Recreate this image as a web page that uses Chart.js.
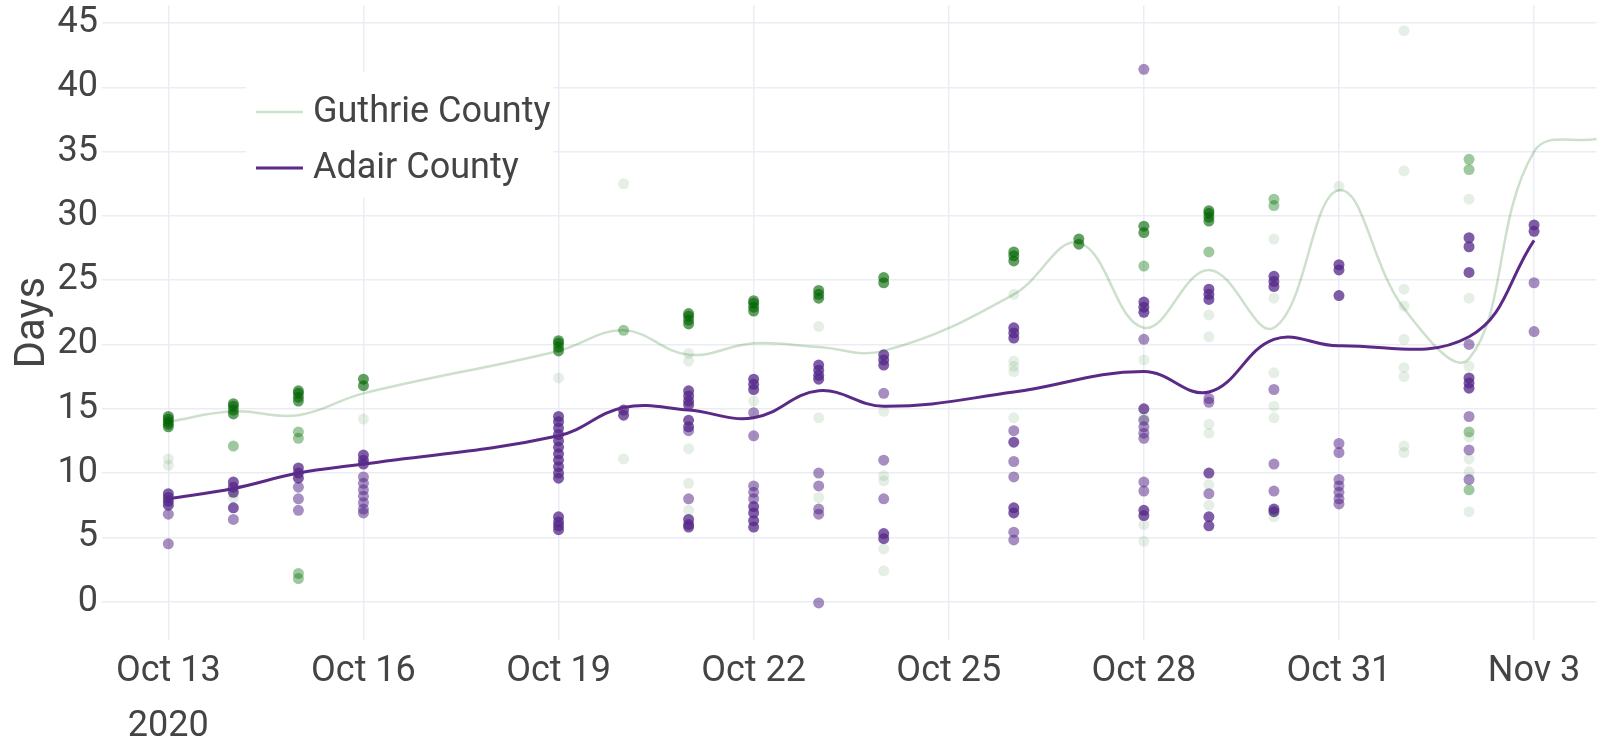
<!DOCTYPE html>
<html>
<head>
<meta charset="utf-8">
<script src="https://cdn.jsdelivr.net/npm/chart.js@4.4.1/dist/chart.umd.min.js"></script>
<style>
  html, body { margin: 0; padding: 0; background: #fff; overflow: hidden; }
</style>
</head>
<body>
<canvas id="chart" width="1602" height="740"></canvas>
<script>
// smoothed trend lines, one value per day
const trendDates = ['10-13','10-14','10-15','10-16','10-19','10-20','10-21','10-22','10-23','10-24','10-26','10-27','10-28','10-29','10-30','10-31','11-01','11-02','11-03','11-04'];
const guthrieTrend = [14.0,14.8,14.5,16.2,19.5,21.1,19.2,20.1,19.8,19.5,23.9,27.9,21.3,25.8,21.3,32.0,22.8,18.9,35.0,36.0];
const adairTrend   = [8.0,8.8,10.0,10.7,12.9,15.1,14.9,14.3,16.4,15.2,16.3,null,17.9,16.3,20.4,19.9,null,20.6,28.1,null];

// individual records [date, days], grouped by how strongly they show
const guthrieStrong = [
  ['10-13',13.6],['10-13',13.8],['10-13',14.0],['10-13',14.2],['10-13',14.4],
  ['10-14',14.6],['10-14',14.9],['10-14',15.2],['10-14',15.4],
  ['10-15',15.6],['10-15',15.9],['10-15',16.2],['10-15',16.4],
  ['10-16',16.8],['10-16',17.3],
  ['10-19',19.5],['10-19',19.8],['10-19',20.1],['10-19',20.3],
  ['10-21',21.6],['10-21',21.9],['10-21',22.2],['10-21',22.4],
  ['10-22',22.6],['10-22',22.9],['10-22',23.2],['10-22',23.4],
  ['10-23',23.6],['10-23',23.9],['10-23',24.2],
  ['10-24',24.8],['10-24',25.2],
  ['10-26',26.5],['10-26',26.9],['10-26',27.2],
  ['10-27',27.8],['10-27',28.2],
  ['10-28',28.7],['10-28',29.2],
  ['10-29',29.6],['10-29',29.9],['10-29',30.2],['10-29',30.4]
];
const guthrieMedium = [
  ['10-14',12.1],['10-15',13.2],['10-15',12.7],['10-15',2.2],['10-15',1.8],
  ['10-20',21.1],['10-28',26.1],['10-29',27.2],['10-30',31.3],['10-30',30.8],
  ['11-02',34.4],['11-02',33.6],['11-02',13.2],['11-02',8.7]
];
const guthrieFaint = [
  ['10-13',11.1],['10-13',10.6],['10-14',8.1],['10-16',14.2],['10-19',17.4],
  ['10-20',32.5],['10-20',11.1],
  ['10-21',19.3],['10-21',18.7],['10-21',11.9],['10-21',9.2],['10-21',7.1],
  ['10-22',15.6],['10-23',21.4],['10-23',14.3],['10-23',8.1],
  ['10-24',14.8],['10-24',9.8],['10-24',9.4],['10-24',4.1],['10-24',2.4],
  ['10-26',23.9],['10-26',18.7],['10-26',18.3],['10-26',17.9],['10-26',14.3],
  ['10-28',18.8],['10-28',14.3],['10-28',6.0],['10-28',4.7],
  ['10-29',22.3],['10-29',20.6],['10-29',13.8],['10-29',13.1],['10-29',9.1],['10-29',7.5],
  ['10-30',28.2],['10-30',23.6],['10-30',17.8],['10-30',15.2],['10-30',14.3],['10-30',6.6],
  ['10-31',32.3],
  ['11-01',44.4],['11-01',33.5],['11-01',24.3],['11-01',23.0],['11-01',20.4],['11-01',18.2],['11-01',17.5],['11-01',12.1],['11-01',11.6],
  ['11-02',31.3],['11-02',23.6],['11-02',18.3],['11-02',12.8],['11-02',11.1],['11-02',10.1],['11-02',7.0]
];
const adairStrong = [
  ['10-13',7.5],['10-13',7.8],['10-13',8.1],['10-13',8.4],
  ['10-14',8.5],['10-14',8.9],['10-14',9.3],['10-14',7.3],
  ['10-15',9.6],['10-15',10.0],['10-15',10.4],
  ['10-16',10.7],['10-16',11.0],['10-16',11.4],
  ['10-19',14.4],['10-19',14.0],['10-19',13.5],['10-19',13.0],['10-19',12.5],['10-19',12.0],['10-19',11.5],['10-19',11.0],['10-19',10.5],['10-19',10.0],['10-19',9.6],
  ['10-19',6.6],['10-19',6.2],['10-19',5.9],['10-19',5.6],
  ['10-20',14.9],['10-20',14.5],
  ['10-21',16.4],['10-21',16.0],['10-21',15.6],['10-21',15.3],['10-21',14.1],['10-21',13.6],['10-21',6.4],['10-21',6.0],['10-21',5.8],
  ['10-22',17.3],['10-22',16.9],['10-22',16.5],['10-22',7.4],['10-22',6.9],['10-22',6.3],['10-22',5.8],
  ['10-23',18.4],['10-23',18.0],['10-23',17.6],['10-23',17.3],
  ['10-24',19.2],['10-24',18.8],['10-24',18.4],['10-24',5.3],['10-24',4.9],
  ['10-26',21.3],['10-26',20.9],['10-26',20.5],['10-26',12.4],['10-26',7.3],['10-26',6.9],
  ['10-28',23.3],['10-28',22.9],['10-28',22.5],['10-28',15.0],['10-28',7.1],['10-28',6.7],
  ['10-29',24.3],['10-29',23.9],['10-29',23.5],['10-29',10.0],['10-29',6.6],['10-29',5.9],
  ['10-30',25.3],['10-30',24.9],['10-30',24.5],['10-30',7.2],['10-30',7.0],
  ['10-31',26.2],['10-31',25.8],['10-31',23.8],
  ['11-02',28.3],['11-02',27.6],['11-02',25.6],['11-02',17.4],['11-02',17.0],['11-02',16.6],
  ['11-03',29.3],['11-03',28.8]
];
const adairMedium = [
  ['10-13',6.8],['10-13',4.5],['10-14',6.4],
  ['10-15',8.9],['10-15',8.0],['10-15',7.1],
  ['10-16',9.7],['10-16',9.2],['10-16',8.7],['10-16',8.2],['10-16',7.7],['10-16',7.2],['10-16',6.9],
  ['10-21',13.3],['10-21',8.0],
  ['10-22',14.7],['10-22',12.9],['10-22',9.0],['10-22',8.5],['10-22',8.0],
  ['10-23',10.0],['10-23',9.0],['10-23',7.2],['10-23',6.8],['10-23',-0.1],
  ['10-24',16.2],['10-24',11.0],['10-24',8.0],
  ['10-26',13.3],['10-26',10.9],['10-26',9.7],['10-26',5.4],['10-26',4.8],
  ['10-28',41.4],['10-28',20.4],['10-28',14.1],['10-28',13.6],['10-28',13.1],['10-28',12.7],['10-28',9.3],['10-28',8.6],
  ['10-29',15.8],['10-29',15.5],['10-29',8.4],
  ['10-30',16.5],['10-30',10.7],['10-30',8.6],
  ['10-31',12.3],['10-31',11.6],['10-31',9.5],['10-31',9.0],['10-31',8.5],['10-31',8.0],['10-31',7.6],
  ['11-02',20.0],['11-02',14.4],['11-02',11.8],['11-02',9.5],
  ['11-03',24.8],['11-03',21.0]
];

const xTickDates = ['10-13','10-16','10-19','10-22','10-25','10-28','10-31','11-03'];
const xTickLabels = [['Oct 13','2020'],'Oct 16','Oct 19','Oct 22','Oct 25','Oct 28','Oct 31','Nov 3'];
const yTicks = [0,5,10,15,20,25,30,35,40,45];

const baseDay = Date.UTC(2020, 9, 13);
function dayOf(md) {
  const [m, d] = md.split('-').map(Number);
  return (Date.UTC(2020, m - 1, d) - baseDay) / 864e5;
}
const toPoints = arr => arr.map(([d, v]) => ({ x: dayOf(d), y: v }));
const toLine = vals => vals.map((v, i) => ({ x: dayOf(trendDates[i]), y: v }));

const FONT = 'Roboto, "Open Sans", sans-serif';
const TEXT = '#444444';
const GRID = '#ebedf3';
const GREEN = 'rgba(0,100,0,0.2)';
const PURPLE = '#5b2a86';

function dots(data, color) {
  return { type: 'scatter', data: toPoints(data), order: 2, pointRadius: 5.5, pointHoverRadius: 5.5,
           pointBorderWidth: 0, backgroundColor: color, borderColor: color };
}

// legend box drawn inside the plot, top left
const insideLegend = {
  id: 'insideLegend',
  afterDatasetsDraw(chart) {
    const ctx = chart.ctx;
    const items = [
      { label: 'Guthrie County', color: GREEN, width: 2.5, y: 112 },
      { label: 'Adair County', color: PURPLE, width: 3, y: 168 }
    ];
    ctx.save();
    ctx.fillStyle = '#ffffff';
    ctx.fillRect(246, 72, 307, 126);
    ctx.font = '36px ' + FONT;
    ctx.textBaseline = 'middle';
    items.forEach(it => {
      ctx.strokeStyle = it.color;
      ctx.lineWidth = it.width;
      ctx.beginPath();
      ctx.moveTo(256, it.y);
      ctx.lineTo(303, it.y);
      ctx.stroke();
      ctx.fillStyle = TEXT;
      ctx.fillText(it.label, 313, it.y + 1);
    });
    ctx.restore();
  }
};

function noPad(s) {
  s.paddingTop = 0; s.paddingBottom = 0; s.paddingLeft = 0; s.paddingRight = 0;
}

function draw() {
  new Chart(document.getElementById('chart'), {
    type: 'scatter',
    data: {
      datasets: [
        { type: 'line', label: 'Guthrie County', data: toLine(guthrieTrend), order: 1,
          borderColor: GREEN, borderWidth: 2.5, tension: 0.4, pointRadius: 0, spanGaps: true, fill: false },
        { type: 'line', label: 'Adair County', data: toLine(adairTrend), order: 0,
          borderColor: PURPLE, borderWidth: 3, tension: 0.4, pointRadius: 0, spanGaps: true, fill: false },
        dots(guthrieFaint, 'rgba(0,100,0,0.1)'),
        dots(guthrieMedium, 'rgba(0,110,0,0.38)'),
        dots(guthrieStrong, 'rgba(0,100,0,0.62)'),
        dots(adairMedium, 'rgba(84,39,136,0.52)'),
        dots(adairStrong, 'rgba(84,39,136,0.75)')
      ]
    },
    options: {
      responsive: false,
      animation: false,
      events: [],
      layout: { padding: { top: 5, left: 0, right: 0, bottom: 0 } },
      plugins: { legend: { display: false }, tooltip: { enabled: false } },
      scales: {
        x: {
          type: 'linear',
          min: -1.02,
          max: 21.96,
          border: { display: false },
          grid: { color: GRID, lineWidth: 1.5, drawTicks: false },
          afterBuildTicks: s => { s.ticks = xTickDates.map(d => ({ value: dayOf(d) })); },
          afterFit: s => { s.height = 100; noPad(s); },
          ticks: {
            autoSkip: false, maxRotation: 0, padding: 5, color: TEXT,
            font: { family: FONT, size: 36, lineHeight: 1.52 },
            callback: v => xTickLabels[xTickDates.findIndex(d => dayOf(d) === v)]
          }
        },
        y: {
          min: -2.98,
          max: 46.36,
          border: { display: false },
          grid: { color: GRID, lineWidth: 1.5, drawTicks: false },
          afterBuildTicks: s => { s.ticks = yTicks.map(v => ({ value: v })); },
          afterFit: s => { s.width = 102; noPad(s); },
          ticks: { padding: 4, color: TEXT, font: { family: FONT, size: 36 } },
          title: { display: true, text: 'Days', color: TEXT, padding: { top: 8, bottom: 0 },
                   font: { family: FONT, size: 42, lineHeight: 1.2 } }
        }
      }
    },
    plugins: [insideLegend]
  });
}

document.fonts.load('36px Roboto').then(draw, draw);
</script>
</body>
</html>
